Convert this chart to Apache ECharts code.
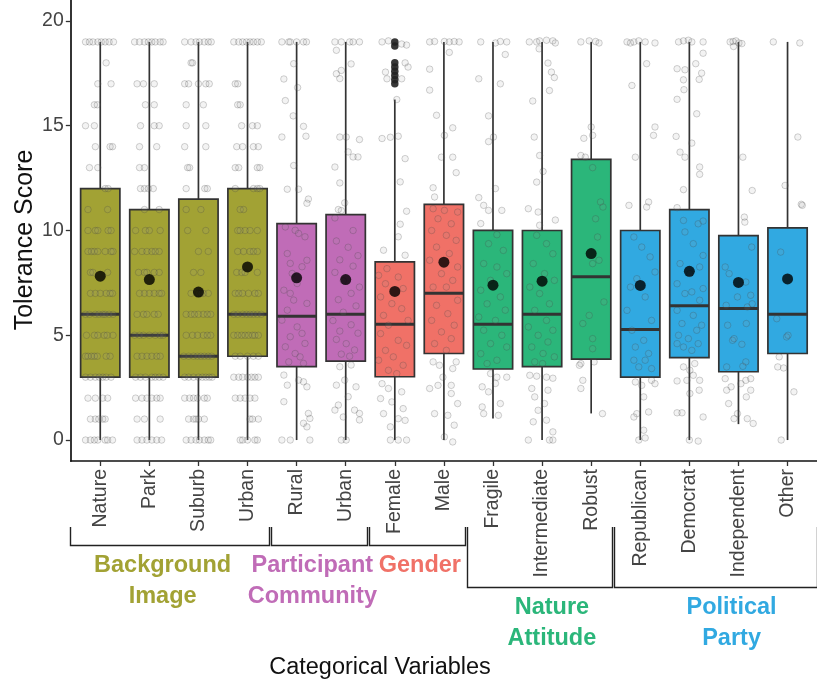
<!DOCTYPE html>
<html>
<head>
<meta charset="utf-8">
<title>Tolerance Score by Categorical Variables</title>
<script src="https://cdn.jsdelivr.net/npm/echarts@6/dist/echarts.min.js"></script>
<style>
  html, body { margin: 0; padding: 0; background: #ffffff; }
  #chart { width: 817px; height: 682px; }
</style>
</head>
<body>
<div id="chart"></div>
<script>
// ---- Categories and groups ----
const categories = ['Nature', 'Park', 'Suburb', 'Urban', 'Rural', 'Urban', 'Female', 'Male',
  'Fragile', 'Intermediate', 'Robust', 'Republican', 'Democrat', 'Independent', 'Other'];
const categoryGroup = [0, 0, 0, 0, 1, 1, 2, 2, 3, 3, 3, 4, 4, 4, 4];
const groupNames = ['Background\nImage', 'Participant\nCommunity', 'Gender', 'Nature\nAttitude', 'Political\nParty'];
const groupFirst = [1, 5, 7, 9, 12];
const groupLast = [4, 6, 8, 11, 15];

// ---- Box statistics (Tolerance Score) ----
const whiskerLow  = [0, 0, 0, 0, 0, 0, 0, 0, 1.03, 0, 1.27, 0, 0, 0.76, 0];
const quartile1   = [3, 3, 3, 4, 3.5, 3.77, 3.02, 4.13, 3.39, 3.5, 3.86, 3, 3.93, 3.26, 4.13];
const medianScore = [6, 5, 4, 6, 5.91, 6, 5.53, 7, 5.53, 6, 7.79, 5.28, 6.41, 6.28, 6];
const quartile3   = [12, 11, 11.5, 12, 10.33, 10.76, 8.5, 11.25, 10.01, 10, 13.39, 10, 11, 9.76, 10.13];
const whiskerHigh = [19, 19, 19, 19, 19, 19, 16.25, 19, 19, 19, 19, 19, 19, 19, 19];
const meanScore   = [7.82, 7.66, 7.06, 8.26, 7.74, 7.66, 7.09, 8.49, 7.39, 7.58, 8.90, 7.38, 8.05, 7.52, 7.69];
const femaleOutliers = [19, 18.8, 18, 17.8, 17.6, 17.4, 17.2, 17];

// ---- Individual responses: [horizontal jitter, score] ----
const jitterNature = [[-.30,19],[-.22,19],[-.15,19],[-.05,19],[.02,19],[.10,19],[.18,19],[.27,19],
  [.12,18],[-.05,17],[.22,17],[-.12,16],[-.06,16],[-.30,15],[-.12,15],
  [-.10,14],[.20,14],[.25,14],[-.05,13],[-.22,13],[.10,12],[.16,12],
  [-.25,11],[.15,11],[-.25,10],[-.10,10],[-.05,10],[.16,10],[.22,10],
  [-.25,9],[-.18,9],[-.12,9],[-.05,9],[.10,9],[.22,9],[.26,9],
  [-.20,8],[-.15,8],[.15,8],
  [-.20,7],[-.10,7],[0,7],[.12,7],[.20,7],[.25,7],
  [-.30,6],[-.22,6],[-.10,6],[-.03,6],[.05,6],[.10,6],[.18,6],[.26,6],
  [-.28,5],[-.12,5],[-.05,5],[.08,5],[.14,5],[.26,5],
  [-.30,4],[-.25,4],[-.18,4],[-.12,4],[-.06,4],[.12,4],[.20,4],
  [-.30,3],[-.20,3],[-.10,3],[-.02,3],[.05,3],[.12,3],[.22,3],
  [-.25,2],[-.10,2],[.05,2],[.15,2],
  [-.20,1],[-.10,1],[-.03,1],[.05,1],[.10,1],
  [-.30,0],[-.20,0],[-.12,0],[-.05,0],[.10,0],[.15,0],[.25,0]];
const jitterPark = [[-.30,19],[-.20,19],[-.10,19],[-.02,19],[.05,19],[.12,19],[.22,19],[.28,19],
  [-.25,17],[-.12,17],[.10,17],[-.08,16],[.10,16],[-.18,15],[.10,15],[.20,15],
  [-.20,14],[.15,14],[-.20,13],[-.10,13],[-.18,12],[-.10,12],[-.02,12],[.08,12],
  [-.10,11],[.20,11],[-.28,10],[-.08,10],[0,10],[.22,10],
  [-.30,9],[-.15,9],[-.05,9],[.05,9],[.12,9],[.20,9],
  [-.22,8],[-.10,8],[-.05,8],[.10,8],[.20,8],
  [-.20,7],[-.10,7],[0,7],[.10,7],[.20,7],[.25,7],
  [-.25,6],[-.12,6],[-.05,6],[.10,6],[.18,6],
  [-.30,5],[-.20,5],[-.12,5],[0,5],[.12,5],[.22,5],[.28,5],
  [-.25,4],[-.15,4],[-.05,4],[.05,4],[.15,4],[.22,4],
  [-.28,3],[-.18,3],[-.08,3],[.05,3],[.12,3],[.20,3],[.28,3],
  [-.28,2],[-.15,2],[-.05,2],[.05,2],[.15,2],[.22,2],
  [-.25,1],[-.10,1],[.22,1],
  [-.25,0],[-.15,0],[-.05,0],[.05,0],[.15,0],[.25,0]];
const jitterSuburb = [[-.28,19],[-.15,19],[-.05,19],[.02,19],[.12,19],[.20,19],[.26,19],
  [-.15,18],[-.12,18],[-.28,17],[-.20,17],[0,17],[.15,17],[.22,17],
  [-.25,16],[.10,16],[-.25,15],[.15,15],[-.28,14],[.15,14],[-.22,13],[-.18,13],
  [-.25,12],[.13,12],[.18,12],[-.25,11],[.05,11],[-.22,10],[.15,10],[0,9],[.20,9],[-.10,8],[.05,8],
  [-.15,7],[0,7],[.05,7],[.10,7],[.20,7],
  [-.25,6],[-.15,6],[-.08,6],[0,6],[.10,6],[.18,6],[.25,6],
  [-.25,5],[-.12,5],[-.02,5],[.10,5],[.18,5],[.25,5],
  [-.30,4],[-.20,4],[-.10,4],[-.02,4],[.05,4],[.12,4],[.20,4],[.27,4],
  [-.28,3],[-.20,3],[-.10,3],[0,3],[.08,3],[.15,3],[.22,3],[.28,3],
  [-.28,2],[-.18,2],[-.10,2],[-.02,2],[.12,2],[.18,2],
  [-.20,1],[-.10,1],[-.05,1],[0,1],[.12,1],
  [-.25,0],[-.15,0],[-.05,0],[.02,0],[.12,0],[.20,0],[.25,0]];
const jitterUrbanImage = [[-.28,19],[-.18,19],[-.10,19],[-.02,19],[.05,19],[.12,19],[.20,19],[.28,19],
  [-.25,17],[-.20,17],[-.20,16],[-.15,16],[-.12,15],[.10,15],[.20,15],
  [-.22,14],[-.10,14],[.12,14],[.22,14],[-.25,13],[-.18,13],[.20,13],[.25,13],
  [-.25,12],[.12,12],[.20,12],[.25,12],[-.15,11],[-.08,11],
  [-.20,10],[-.15,10],[-.05,10],[.05,10],[.20,10],
  [-.20,9],[-.08,9],[.05,9],[.12,9],[.20,9],
  [-.22,8],[-.12,8],[-.05,8],[.20,8],
  [-.25,7],[-.18,7],[-.10,7],[.02,7],[.15,7],[.22,7],
  [-.28,6],[-.20,6],[-.10,6],[-.02,6],[.05,6],[.12,6],[.20,6],[.28,6],
  [-.28,5],[-.20,5],[-.12,5],[-.05,5],[.02,5],[.10,5],[.15,5],[.22,5],
  [-.25,4],[-.15,4],[0,4],[.12,4],[.22,4],
  [-.28,3],[-.18,3],[-.10,3],[0,3],[.08,3],[.15,3],[.22,3],
  [-.25,2],[-.15,2],[-.05,2],[.05,2],[.15,2],
  [.05,1],[.10,1],[.22,1],
  [-.15,0],[-.10,0],[0,0],[.15,0],[.20,0]];
const jitterRural = [[-.30,19],[-.16,19],[-.13,19],[0,19],[.14,19],[.20,19],
  [-.06,17.96],[-.26,17.23],[.02,16.82],[-.23,16.2],[-.07,15.47],[.14,14.97],[.19,14.5],[-.30,14.46],
  [-.06,13.1],[-.19,11.97],[.04,11.97],[.24,11.5],[.21,11.3],
  [-.23,10.17],[-.03,10.01],[.04,9.86],[.17,9.7],[-.19,8.9],[-.13,8.43],[.21,8.58],[.11,8.27],
  [-.09,7.95],[.01,7.47],[-.26,7.15],[-.13,7.0],[-.06,6.68],[.21,6.52],[-.19,6.2],[-.30,5.72],
  [.01,5.4],[.11,5.09],[-.13,4.93],[.17,4.61],[-.23,4.45],[-.03,4.13],[.07,3.97],[-.16,3.73],[.14,3.66],
  [-.26,3.1],[.04,2.86],[.14,2.78],[.21,2.54],[-.19,2.62],[-.26,1.83],[.24,1.27],[.27,1.03],
  [.14,.8],[.21,.63],[-.30,0],[-.13,0],[.27,0]];
const jitterUrbanCommunity = [[-.22,19],[-.09,19],[.08,19],[.15,19],[.28,19],
  [-.19,18.6],[.11,17.95],[-.09,17.64],[-.19,17.48],[-.12,17.25],[-.22,13.03],[.01,14.46],[-.12,14.46],
  [.28,14.34],[.05,13.75],[.15,13.51],[.25,13.51],[-.12,12.27],[-.02,11.32],[-.15,11.0],[-.09,10.95],
  [-.22,10.6],[.15,10.0],[-.19,9.5],[.05,9.2],[.25,8.8],[-.12,8.6],[.15,8.3],[-.22,8.0],[-.05,7.6],
  [.28,7.3],[.11,7.0],[-.15,6.7],[.21,6.4],[-.05,6.1],[-.26,5.7],[.11,5.5],[-.12,5.2],[.25,5.1],
  [-.19,4.8],[.01,4.6],[.18,4.3],[-.09,4.1],[.08,4.0],
  [-.12,3.5],[.11,3.58],[-.19,2.62],[-.02,2.86],[.21,2.54],[.05,2.07],[-.15,1.67],[.28,1.27],
  [-.05,1.1],[.18,1.43],[-.22,1.43],[.28,.96],[-.09,0],[.01,0]];
const jitterFemale = [[-.26,19],[-.13,19.05],[.14,18.9],[.24,18.85],[.27,17.8],[-.19,17.56],[-.16,17.24],
  [.14,17.24],[.21,18.0],[.04,16.25],[-.26,14.39],[-.09,14.45],[.07,14.5],[.21,13.43],[.11,12.32],
  [.24,10.92],[.11,10.3],[.07,9.7],[-.23,9.06],[.21,8.82],
  [-.16,8.18],[-.33,7.86],[.07,7.78],[-.19,7.46],[.17,7.23],[-.29,6.83],[-.06,6.51],[.14,6.27],
  [-.23,5.95],[.27,5.71],[-.13,5.48],[-.29,5.08],[.07,4.76],[.24,4.52],[-.19,4.28],[-.03,3.97],
  [-.33,3.81],[.17,3.57],[-.13,3.33],[.04,3.17],
  [-.26,2.69],[-.13,2.46],[.14,2.3],[-.29,1.98],[-.06,1.82],[.17,1.5],[-.23,1.26],[.07,1.02],
  [-.09,.63],[.21,.94],[-.09,0],[.07,0],[.24,0]];
const jitterMale = [[-.29,19],[-.19,19.02],[.01,19.02],[.11,19],[.21,19.02],[.31,19],[.11,18.5],
  [-.29,17.7],[-.29,16.7],[-.15,15.5],[.18,14.9],[.01,14.54],[-.05,13.5],[.18,13.5],[.25,12.76],
  [-.22,12.04],[-.19,11.6],
  [-.22,11.04],[.01,10.96],[.28,10.88],[-.12,10.56],[.15,10.32],[-.25,10.0],[.05,9.77],[.25,9.53],
  [-.15,9.21],[.11,8.9],[-.29,8.58],[.28,8.26],[-.05,7.94],[.18,7.62],[-.22,7.3],[.05,7.3],
  [.28,6.67],[-.15,6.43],[.08,6.03],[-.25,5.71],[.21,5.48],[-.05,5.16],[.15,4.84],[-.19,4.6],[.05,4.28],
  [-.22,3.73],[-.09,3.57],[.25,3.73],[.18,3.41],[-.29,2.46],[-.02,3.0],[-.12,2.61],[.15,2.61],
  [.15,2.22],[.28,1.74],[-.19,1.26],[.08,1.18],[.21,.71],[.18,-.09],[.01,.15]];
const jitterFragile = [[-.25,19],[.05,18.95],[.15,19.02],[.28,19],[.25,18.4],[-.29,17.24],[.15,17.0],
  [-.09,15.47],[-.09,14.24],[.01,14.46],[.05,12.0],[-.29,11.57],[-.19,11.2],[-.09,10.96],[.18,10.96],
  [-.25,10.33],
  [.08,9.8],[-.09,9.37],[.21,9.05],[-.19,8.42],[.08,8.26],[.28,7.94],[-.05,7.62],[-.25,7.15],
  [.15,6.83],[-.12,6.5],[.25,6.2],[-.29,5.87],[.05,5.71],[-.19,5.24],[.18,5.0],[-.05,4.6],
  [.28,4.44],[-.25,4.12],[.08,3.81],[-.12,3.65],
  [-.05,3.17],[.08,3.0],[.28,3.0],[-.22,2.54],[.05,2.7],[-.09,2.3],[.15,1.74],[-.22,1.58],
  [.11,1.18],[-.19,1.26]];
const jitterIntermediate = [[-.26,19],[-.11,19],[-.05,19.05],[.09,19.08],[.22,19.05],[.27,18.95],
  [-.06,18.67],[.12,17.99],[.19,17.56],[.25,17.3],[.15,16.68],[-.19,16.18],[-.16,14.46],[-.05,13.58],
  [.02,12.82],[-.11,12.31],[-.28,11.04],[-.08,10.88],[.27,10.5],[-.05,10.25],
  [-.11,9.77],[.09,9.37],[.22,8.89],[-.18,8.42],[.05,7.94],[.25,7.62],[-.25,7.3],[-.05,6.99],
  [.15,6.5],[-.15,6.19],[.09,5.71],[-.28,5.4],[.22,5.24],[-.08,5.0],[.12,4.68],[-.21,4.44],
  [.02,4.13],[.25,3.97],[-.15,3.73],[.01,3.65],
  [-.25,3.09],[-.11,3.05],[.09,3.0],[.22,2.95],[-.21,2.46],[.12,2.38],[-.15,2.06],[.05,1.74],
  [-.08,1.42],[.09,.95],[-.18,.87],[.22,.39],[-.28,0],[.15,0],[.22,0]];
const jitterRobust = [[-.21,19],[-.04,19.05],[.09,19.02],[.16,18.95],[0,14.94],[.03,14.54],[-.15,14.4],
  [-.21,13.58],[-.12,13.5],[.03,13.0],[.19,11.36],[.24,11.12],[.09,10.56],[.13,9.69],[.03,8.42],
  [.16,8.58],[.26,6.59],[-.17,5.56],[-.04,5.95],[.03,4.84],[.03,4.36],[-.21,3.65],[-.24,3.57],
  [.06,3.73],[-.17,2.85],[-.21,2.46],[.23,1.26]];
const jitterRepublican = [[-.27,19],[-.20,18.95],[-.13,19],[-.03,19.05],[.10,19],[.30,18.95],
  [.13,17.96],[-.17,16.92],[.30,14.94],[.27,14.54],[-.10,13.5],[-.23,11.2],[.17,11.36],[.13,11.12],
  [-.13,9.69],[.03,9.21],[.20,8.74],[.30,8.02],[-.07,7.7],[-.20,7.3],[.10,6.83],[-.27,6.19],
  [.23,5.71],[-.17,5.24],[.07,4.76],[-.10,4.44],[.17,4.13],[-.13,3.81],[.10,3.81],[-.03,3.49],[.23,3.41],
  [-.10,2.77],[.03,2.61],[.23,2.85],[.30,2.69],[.07,2.06],[-.07,1.26],[.17,1.34],[-.13,1.1],
  [.07,.47],[-.03,0],[.10,.1]];
const jitterDemocrat = [[-.22,19],[-.12,19.05],[-.02,19.08],[.05,19],[.28,19],[.28,18.46],[.13,17.96],
  [-.25,17.72],[-.09,17.67],[.25,17.51],[-.12,17.19],[.20,17.21],[-.11,16.72],[-.25,16.26],[.15,15.57],
  [-.27,14.49],[.05,14.17],[-.19,13.74],[-.09,13.5],[.21,13.03],[.21,12.68],[-.12,11.95],[-.25,11.09],
  [-.12,10.48],[.18,10.32],[.28,10.45],[-.09,9.93],[.08,9.37],[.28,8.81],[-.19,8.42],[.21,8.26],
  [.01,7.94],[-.25,7.46],[.28,7.23],[-.09,6.99],[.05,7.07],[.21,6.67],[-.25,6.19],[.08,5.95],
  [-.15,5.56],[.25,5.48],[.15,5.24],[-.22,5.0],[-.02,4.84],[.18,4.6],[-.12,4.44],[.05,4.28],[-.25,4.6],
  [.11,3.65],[-.12,3.49],[.01,3.33],[.08,3.09],[-.05,2.85],[.21,2.85],[-.25,2.82],[.20,2.38],
  [.01,2.22],[.28,1.1],[-.25,1.3],[-.15,1.3],[0,0],[.18,-.05]];
const jitterIndependent = [[-.17,19],[-.11,19.02],[-.05,19.05],[.01,18.95],[.07,18.92],[-.10,18.78],
  [.09,13.5],[.28,11.91],[.12,10.64],[.13,10.4],
  [.27,9.21],[-.27,8.26],[-.19,7.94],[.15,7.54],[.25,6.91],[-.02,6.83],[-.25,6.43],[.18,6.35],
  [.28,6.5],[-.22,5.48],[.16,5.56],[-.12,4.76],[-.09,4.84],[.07,4.57],[-.24,3.49],[.09,3.52],[.15,3.73],
  [-.27,2.93],[-.15,2.54],[.05,2.69],[.15,2.85],[.25,2.93],[-.24,2.38],[.25,2.38],[.16,2.06],
  [-.20,1.74],[-.02,1.26],[-.09,1.02],[.18,1.02],[.30,.79]];
const jitterOther = [[-.29,19],[.25,18.95],[.21,14.46],[.28,11.25],[-.05,12.15],[-.14,8.97],[-.22,5.79],
  [-.02,4.92],[.01,5.0],[-.17,3.97],[-.20,3.49],[-.08,3.44],[.13,2.3],[-.13,0],[.30,11.2]];

const jitterByCategory = [jitterNature, jitterPark, jitterSuburb, jitterUrbanImage, jitterRural,
  jitterUrbanCommunity, jitterFemale, jitterMale, jitterFragile, jitterIntermediate, jitterRobust,
  jitterRepublican, jitterDemocrat, jitterIndependent, jitterOther];

// ---- Axis ticks ----
const scoreTicks = [0, 5, 10, 15, 20];
const categoryTicks = [1, 2, 3, 4, 5, 6, 7, 8, 9, 10, 11, 12, 13, 14, 15];

// ---- Styling ----
const groupColors = ['#A2A234', '#C06CB7', '#F07167', '#2BB67A', '#31A9E1'];
const FONT = '"Liberation Sans", Arial, Helvetica, sans-serif';
const BOX_WIDTH = 0.8;         // in category units
const EDGE = '#333333';

const boxData = categories.map((c, i) =>
  [i + 1, whiskerLow[i], quartile1[i], medianScore[i], quartile3[i], whiskerHigh[i], categoryGroup[i]]);
const pointData = [];
jitterByCategory.forEach((pts, i) => pts.forEach(p => pointData.push([i + 1 + p[0], p[1]])));
const meanData = meanScore.map((m, i) => [i + 1, m]);
const outlierData = femaleOutliers.map(v => [7, v]);

function renderBox(params, api) {
  const x = api.value(0);
  const lo = api.coord([x, api.value(1)]);
  const q1 = api.coord([x, api.value(2)]);
  const med = api.coord([x, api.value(3)]);
  const q3 = api.coord([x, api.value(4)]);
  const hi = api.coord([x, api.value(5)]);
  const half = api.size([BOX_WIDTH, 0])[0] / 2;
  const fill = groupColors[api.value(6)];
  return {
    type: 'group',
    children: [
      { type: 'line', shape: { x1: lo[0], y1: lo[1], x2: q1[0], y2: q1[1] }, style: { stroke: EDGE, lineWidth: 1.7 } },
      { type: 'line', shape: { x1: q3[0], y1: q3[1], x2: hi[0], y2: hi[1] }, style: { stroke: EDGE, lineWidth: 1.7 } },
      { type: 'rect', shape: { x: q1[0] - half, y: q3[1], width: half * 2, height: q1[1] - q3[1] },
        style: { fill: fill, stroke: EDGE, lineWidth: 1.7 } },
      { type: 'line', shape: { x1: med[0] - half, y1: med[1], x2: med[0] + half, y2: med[1] },
        style: { stroke: EDGE, lineWidth: 3 } }
    ]
  };
}

const chart = echarts.init(document.getElementById('chart'), null, { renderer: 'canvas' });

const option = {
  animation: false,
  backgroundColor: '#ffffff',
  grid: { left: 70.8, top: 0, width: 757, height: 461, containLabel: false },
  xAxis: {
    type: 'value', min: 0.4, max: 15.6,
    splitLine: { show: false },
    axisLine: { show: true, onZero: false, lineStyle: { color: '#111', width: 1.7 } },
    axisTick: { show: true, customValues: categoryTicks, length: 5, lineStyle: { color: '#333', width: 1.3 } },
    axisLabel: {
      customValues: categoryTicks, rotate: 90, margin: 8,
      formatter: v => categories[Math.round(v) - 1],
      color: '#444', fontSize: 19.5, fontFamily: FONT
    }
  },
  yAxis: {
    type: 'value', min: -1, max: 21,
    splitLine: { show: false },
    axisLine: { show: true, onZero: false, lineStyle: { color: '#111', width: 1.7 } },
    axisTick: { show: true, customValues: scoreTicks, length: 5, lineStyle: { color: '#333', width: 1.3 } },
    axisLabel: { customValues: scoreTicks, margin: 7, color: '#444', fontSize: 19.5, fontFamily: FONT }
  },
  series: [
    {
      type: 'custom', name: 'box', renderItem: renderBox, data: boxData, z: 2,
      encode: { x: 0, y: [1, 2, 3, 4, 5] }, clip: false
    },
    {
      type: 'scatter', name: 'responses', data: pointData, z: 3,
      symbol: 'circle', symbolSize: 6.5,
      itemStyle: { color: 'rgba(150,150,150,0.15)', borderColor: 'rgba(60,60,60,0.32)', borderWidth: 0.9 },
      silent: true
    },
    {
      type: 'scatter', name: 'outliers', data: outlierData, z: 4,
      symbol: 'circle', symbolSize: 7.5,
      itemStyle: { color: '#222', opacity: 0.9 }, silent: true
    },
    {
      type: 'scatter', name: 'mean', data: meanData, z: 5,
      symbol: 'circle', symbolSize: 11,
      itemStyle: { color: '#000' }, silent: true
    }
  ]
};
chart.setOption(option);

// ---- Group brackets and labels below the category axis ----
const BRACKET_TOP = 527;
const BRACKET_SHORT = 545.5;
const BRACKET_LONG = 587.5;
const bracketDepth = [BRACKET_SHORT, BRACKET_SHORT, BRACKET_SHORT, BRACKET_LONG, BRACKET_LONG];
const labelAt = [2.27, 5.32, 7.51, 10.2, 13.86];   // label centres, in category units

const px = v => chart.convertToPixel({ xAxisIndex: 0 }, v);
const snap = v => Math.round(v) + 0.5;
const graphics = [];
groupNames.forEach((name, g) => {
  const x1 = snap(g === 0 ? px(0.4) - 0.5 : px(groupFirst[g] - 0.53));
  const x2 = snap(g === groupNames.length - 1 ? px(15.6) : px(groupLast[g] + 0.44) - 0.5);
  const yb = bracketDepth[g];
  graphics.push({
    type: 'polyline', silent: true,
    shape: { points: [[x1, BRACKET_TOP], [x1, yb], [x2, yb], [x2, BRACKET_TOP]] },
    style: { stroke: '#222', lineWidth: 1.4, fill: null }
  });
  graphics.push({
    type: 'text', silent: true,
    x: px(labelAt[g]), y: yb + 5,
    style: {
      text: name, fill: groupColors[g], font: 'bold 23.5px ' + FONT,
      align: 'center', verticalAlign: 'top', lineHeight: 31
    }
  });
});
graphics.push({
  type: 'text', silent: true, x: 25, y: 240, rotation: Math.PI / 2,
  style: { text: 'Tolerance Score', fill: '#111', font: '25px ' + FONT, align: 'center', verticalAlign: 'middle' }
});
graphics.push({
  type: 'text', silent: true, x: 380, y: 668,
  style: { text: 'Categorical Variables', fill: '#111', font: '23.5px ' + FONT, align: 'center', verticalAlign: 'middle' }
});
chart.setOption({ graphic: graphics });
</script>
</body>
</html>
